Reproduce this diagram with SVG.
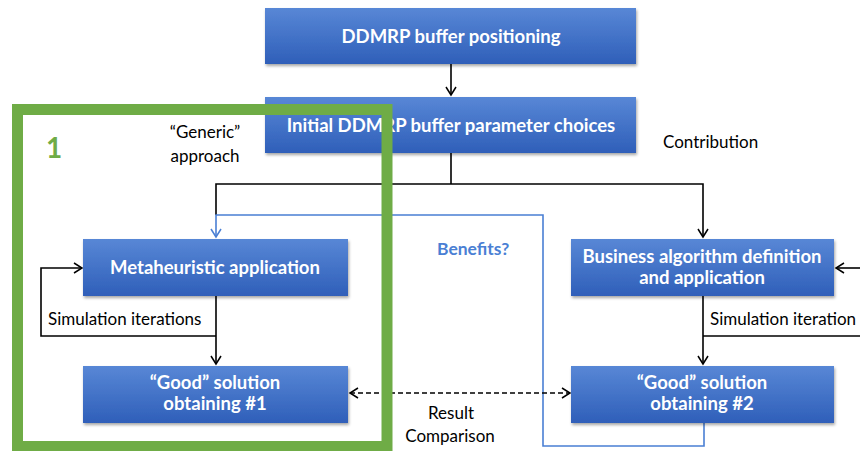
<svg xmlns="http://www.w3.org/2000/svg" width="860" height="451" viewBox="0 0 860 451">
<defs>
<linearGradient id="g" x1="0" y1="0" x2="0" y2="1">
<stop offset="0" stop-color="#5887d6"/>
<stop offset="1" stop-color="#2f5fb9"/>
</linearGradient>
<filter id="sh" x="-5%" y="-10%" width="110%" height="130%">
<feDropShadow dx="1" dy="2" stdDeviation="1.5" flood-color="#000" flood-opacity="0.35"/>
</filter>
<marker id="ah" markerWidth="12" markerHeight="12" refX="10" refY="6" orient="auto" markerUnits="userSpaceOnUse">
<path d="M2,1 L10,6 L2,11" fill="none" stroke="#000" stroke-width="1.5"/>
</marker>
<marker id="ahb" markerWidth="12" markerHeight="12" refX="10" refY="6" orient="auto" markerUnits="userSpaceOnUse">
<path d="M2,1 L10,6 L2,11" fill="none" stroke="#4a7fd4" stroke-width="1.5"/>
</marker>
<marker id="ahs" markerWidth="12" markerHeight="12" refX="2" refY="6" orient="auto" markerUnits="userSpaceOnUse">
<path d="M10,1 L2,6 L10,11" fill="none" stroke="#000" stroke-width="1.5"/>
</marker>
</defs>
<style>
.box{fill:url(#g);filter:url(#sh);}
.bt{font-family:Lato,"Liberation Sans",sans-serif;font-weight:bold;font-size:18.5px;fill:#fff;text-anchor:middle;}
.lbl{font-family:Lato,"Liberation Sans",sans-serif;font-size:17px;fill:#000;}
.c{fill:none;stroke:#000;stroke-width:1.6;}
</style>
<rect width="860" height="451" fill="#fff"/>
<g id="connectors">
<path class="c" d="M451,64 V95" marker-end="url(#ah)"/>
<path class="c" d="M451,153 V184 M216,215 V184 H703 V237" marker-end="url(#ah)"/>
<path d="M704,423 V446 H543 V215 H216 V237" fill="none" stroke="#4a7fd4" stroke-width="1.6" marker-end="url(#ahb)"/>
<path class="c" d="M216,296 V364" marker-end="url(#ah)"/>
<path class="c" d="M216,336 H41 V268 H82" marker-end="url(#ah)"/>
<path class="c" d="M703,296 V364" marker-end="url(#ah)"/>
<path class="c" d="M703,336 H860"/>
<path class="c" d="M860,268 H836" marker-end="url(#ah)"/>
<path class="c" d="M350,393 H570" stroke-dasharray="5,3" marker-start="url(#ahs)" marker-end="url(#ah)"/>
</g>
<g id="n1"><rect class="box" x="265" y="8" width="371" height="56"/><text class="bt" x="451" y="43">DDMRP buffer positioning</text></g>
<g id="n2"><rect class="box" x="265" y="97" width="371" height="56"/><text class="bt" x="451" y="132">Initial DDMRP buffer parameter choices</text></g>
<g id="n3"><rect class="box" x="83" y="239" width="265" height="57"/><text class="bt" x="215" y="274">Metaheuristic application</text></g>
<g id="n4"><rect class="box" x="83" y="366" width="265" height="57"/><text class="bt" x="215" y="389">“Good” solution</text><text class="bt" x="215" y="410">obtaining #1</text></g>
<g id="n5"><rect class="box" x="571" y="239" width="263" height="57"/><text class="bt" x="702" y="263">Business algorithm definition</text><text class="bt" x="702" y="284">and application</text></g>
<g id="n6"><rect class="box" x="571" y="366" width="263" height="57"/><text class="bt" x="702" y="389">“Good” solution</text><text class="bt" x="702" y="410">obtaining #2</text></g>
<g id="group1">
<rect x="17.5" y="109.5" width="369.5" height="337" fill="none" stroke="#6fac46" stroke-width="11"/>
<text x="46" y="158" font-family="Lato,'Liberation Sans',sans-serif" font-weight="bold" font-size="28" fill="#6fac46">1</text>
</g>
<g id="labels">
<text class="lbl" x="205" y="138" text-anchor="middle">“Generic”</text>
<text class="lbl" x="205" y="162" text-anchor="middle">approach</text>
<text class="lbl" x="663" y="148">Contribution</text>
<text x="437" y="255" font-family="Lato,'Liberation Sans',sans-serif" font-weight="bold" font-size="17.5" fill="#4a7fd4">Benefits?</text>
<text class="lbl" x="48" y="325">Simulation iterations</text>
<text class="lbl" x="710" y="325">Simulation iteration</text>
<text class="lbl" x="451" y="419" text-anchor="middle">Result</text>
<text class="lbl" x="450" y="442" text-anchor="middle">Comparison</text>
</g>
</svg>
